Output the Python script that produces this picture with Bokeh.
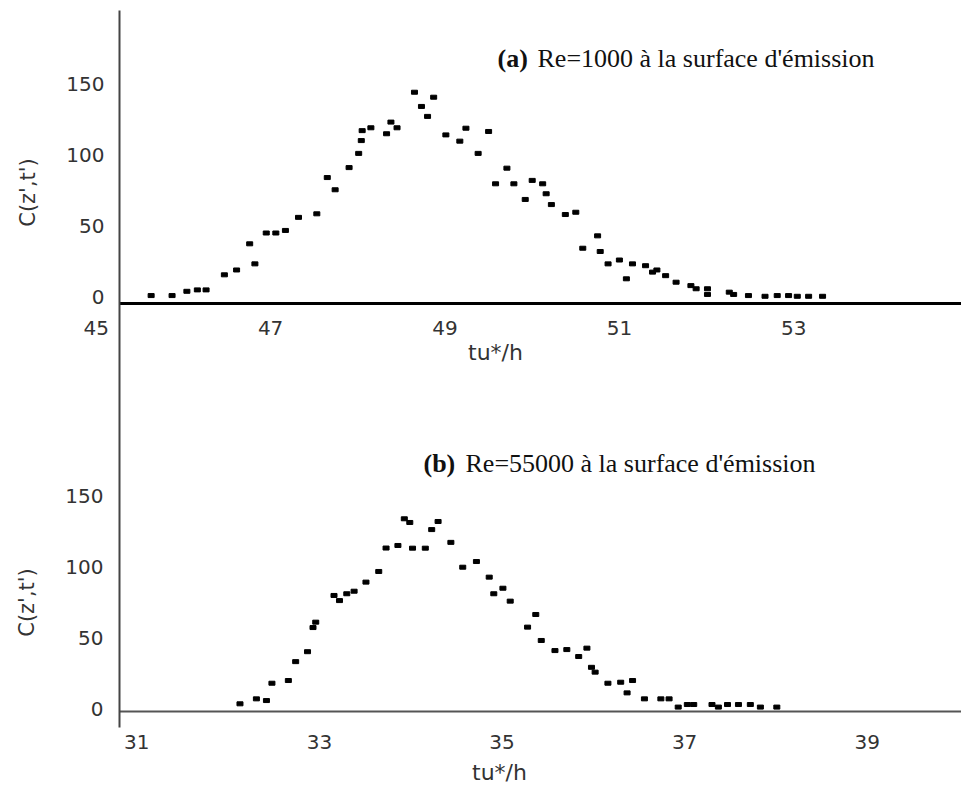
import numpy as np
from bokeh.plotting import figure
from bokeh.models import LinearAxis, FixedTicker, Label, Range1d
from bokeh.embed import file_html
from bokeh.resources import INLINE

# ---------------- data ----------------
# (a) Re=1000
t_a = [45.63, 45.87, 46.04, 46.16, 46.26, 46.47, 46.61, 46.76, 46.82, 46.95,
       47.06, 47.17, 47.32, 47.53, 47.65, 47.74, 47.90, 48.01, 48.04, 48.05,
       48.15, 48.33, 48.38, 48.45, 48.65, 48.73, 48.80, 48.87, 49.01, 49.17,
       49.24, 49.38, 49.50, 49.58, 49.71, 49.79, 49.92, 50.00, 50.12, 50.16,
       50.22, 50.38, 50.50, 50.58, 50.75, 50.78, 50.87, 51.00, 51.08, 51.15,
       51.30, 51.38, 51.43, 51.53, 51.65, 51.82, 51.88, 52.01, 52.01, 52.26,
       52.31, 52.48, 52.67, 52.81, 52.94, 53.04, 53.17, 53.33]
c_a = [1.0, 1.0, 4.0, 5.0, 5.0, 15.6, 19.0, 37.4, 23.3, 45.0,
       45.0, 46.8, 56.0, 58.5, 84.0, 75.4, 91.0, 101.0, 110.0, 117.0,
       119.0, 114.8, 123.0, 119.0, 144.0, 134.0, 127.0, 140.5, 114.0, 109.6,
       118.7, 101.0, 116.4, 79.6, 90.6, 79.6, 68.6, 82.0, 79.6, 72.6,
       65.0, 58.0, 59.6, 34.3, 43.0, 32.0, 23.3, 26.0, 12.8, 23.3,
       22.0, 17.5, 19.0, 15.0, 10.4, 8.0, 5.8, 5.8, 1.8, 3.4,
       1.8, 1.0, 0.5, 1.0, 1.0, 0.5, 0.5, 0.5]

# (b) Re=55000
t_b = [32.13, 32.31, 32.42, 32.48, 32.66, 32.74, 32.87, 32.93, 32.96, 33.16,
       33.22, 33.30, 33.38, 33.51, 33.65, 33.73, 33.86, 33.93, 33.99, 34.02,
       34.16, 34.23, 34.30, 34.44, 34.57, 34.72, 34.86, 34.91, 35.01, 35.09,
       35.28, 35.37, 35.43, 35.58, 35.71, 35.84, 35.93, 35.98, 36.02, 36.16,
       36.30, 36.37, 36.43, 36.56, 36.74, 36.83, 36.93, 37.03, 37.10, 37.30,
       37.37, 37.47, 37.59, 37.72, 37.83, 38.01]
c_b = [3.3, 6.8, 5.6, 17.8, 19.7, 33.0, 40.0, 57.0, 60.8, 79.6,
       76.0, 80.8, 82.6, 89.0, 96.5, 113.0, 114.8, 133.6, 131.0, 112.9,
       112.9, 126.0, 131.7, 117.0, 99.5, 103.5, 92.5, 80.8, 84.7, 75.6,
       57.3, 66.2, 47.9, 40.8, 41.5, 36.6, 42.5, 29.0, 25.6, 17.8,
       18.5, 11.0, 19.7, 6.8, 6.8, 6.8, 1.0, 2.8, 2.8, 2.8,
       1.0, 2.8, 2.8, 2.8, 1.0, 1.0]

ticks_x_a = [47, 49, 51, 53]
ticks_x_a_left = [45]
ticks_x_b = [31, 33, 35, 37, 39]
ticks_y = [0, 50, 100, 150]

title_a_tag, title_a = "(a)", "Re=1000 à la surface d'émission"
title_b_tag, title_b = "(b)", "Re=55000 à la surface d'émission"
ylab = "C(z',t')"
xlab = "tu*/h"

TICK_FONT = "DejaVu Sans"
SERIF = "Liberation Serif"
W, H = 961, 785

# pixel -> data mappings (page pixels, origin top-left)
fa_x = lambda px: 45.0 + (px - 95.7) / 87.2
fa_y = lambda py: (296.5 - py) / 1.422
fb_x = lambda px: 31.0 + (px - 136.3) / 91.3
fb_y = lambda py: (708.0 - py) / 1.42


def style_axis(ax, line_color, line_width, standoff):
    ax.axis_line_color = line_color
    ax.axis_line_width = line_width
    ax.major_tick_out = 0
    ax.major_tick_in = 0
    ax.minor_tick_out = 0
    ax.minor_tick_in = 0
    ax.major_label_standoff = standoff
    ax.major_label_text_font = TICK_FONT
    ax.major_label_text_font_size = "20px"
    ax.major_label_text_color = "#333333"


p = figure(width=W, height=H, output_backend="svg", toolbar_location=None,
           x_range=Range1d(fa_x(0), fa_x(W)), y_range=Range1d(fa_y(H), fa_y(0)),
           x_axis_location=None, y_axis_location=None,
           min_border_left=0, min_border_right=0, min_border_top=0, min_border_bottom=0)
p.extra_x_ranges = {"b": Range1d(fb_x(0), fb_x(W))}
p.extra_y_ranges = {"b": Range1d(fb_y(H), fb_y(0))}
p.outline_line_color = None
p.xgrid.visible = False
p.ygrid.visible = False
p.background_fill_color = "white"
p.border_fill_color = "white"

# continuous vertical axis line (panel a scale carries labels)
ya = LinearAxis(fixed_location=fa_x(119), ticker=FixedTicker(ticks=ticks_y),
                bounds=(fa_y(727), fa_y(10)))
style_axis(ya, "#444444", 2, 15)
p.add_layout(ya, "left")

yb = LinearAxis(y_range_name="b", fixed_location=fa_x(119), ticker=FixedTicker(ticks=ticks_y),
                bounds=(fb_y(727), fb_y(385)))
style_axis(yb, None, 2, 16)
p.add_layout(yb, "left")

# horizontal axes
xa = LinearAxis(fixed_location=fa_y(302.7), ticker=FixedTicker(ticks=ticks_x_a),
                bounds=(fa_x(119), fa_x(W)))
style_axis(xa, "black", 3, 18)
p.add_layout(xa, "below")

xa45 = LinearAxis(fixed_location=fa_y(302.7), ticker=FixedTicker(ticks=ticks_x_a_left))
style_axis(xa45, None, 1, 18)
p.add_layout(xa45, "below")

xb = LinearAxis(x_range_name="b", y_range_name="b", fixed_location=fb_y(711),
                ticker=FixedTicker(ticks=ticks_x_b), bounds=(fb_x(119), fb_x(W)))
style_axis(xb, "#555555", 2, 23)
p.add_layout(xb, "below")

# points
p.rect(x=t_a, y=c_a, width=6, height=4, width_units="screen", height_units="screen",
       fill_color="black", line_color="black")
p.rect(x=t_b, y=c_b, width=6, height=4, width_units="screen", height_units="screen",
       fill_color="black", line_color="black", x_range_name="b", y_range_name="b")


def add_texts(fx, fy, rn, xlab_px, ylab_px, tag_px, title_px, tag, title):
    kw = dict(x_range_name=rn, y_range_name=rn)
    p.add_layout(Label(x=fx(xlab_px[0]), y=fy(xlab_px[1]), text=xlab, text_font=TICK_FONT,
                       text_font_size="22px", text_color="#333333",
                       text_align="center", text_baseline="middle", **kw))
    p.add_layout(Label(x=fx(ylab_px[0]), y=fy(ylab_px[1]), text=ylab, angle=np.pi / 2,
                       text_font=TICK_FONT, text_font_size="21px", text_color="#333333",
                       text_align="center", text_baseline="middle", **kw))
    p.add_layout(Label(x=fx(tag_px[0]), y=fy(tag_px[1]), text=tag, text_font=SERIF,
                       text_font_size="26px", text_font_style="bold", text_color="#111111",
                       text_align="left", text_baseline="middle", **kw))
    p.add_layout(Label(x=fx(title_px[0]), y=fy(title_px[1]), text=title, text_font=SERIF,
                       text_font_size="26px", text_color="#111111",
                       text_align="left", text_baseline="middle", **kw))


add_texts(fa_x, fa_y, "default", (495, 352), (27.5, 192), (497, 58), (537, 58),
          title_a_tag, title_a)
add_texts(fb_x, fb_y, "b", (499, 772), (26, 602), (423, 463), (465, 463),
          title_b_tag, title_b)

open("out.html", "w").write(file_html(p, INLINE))
